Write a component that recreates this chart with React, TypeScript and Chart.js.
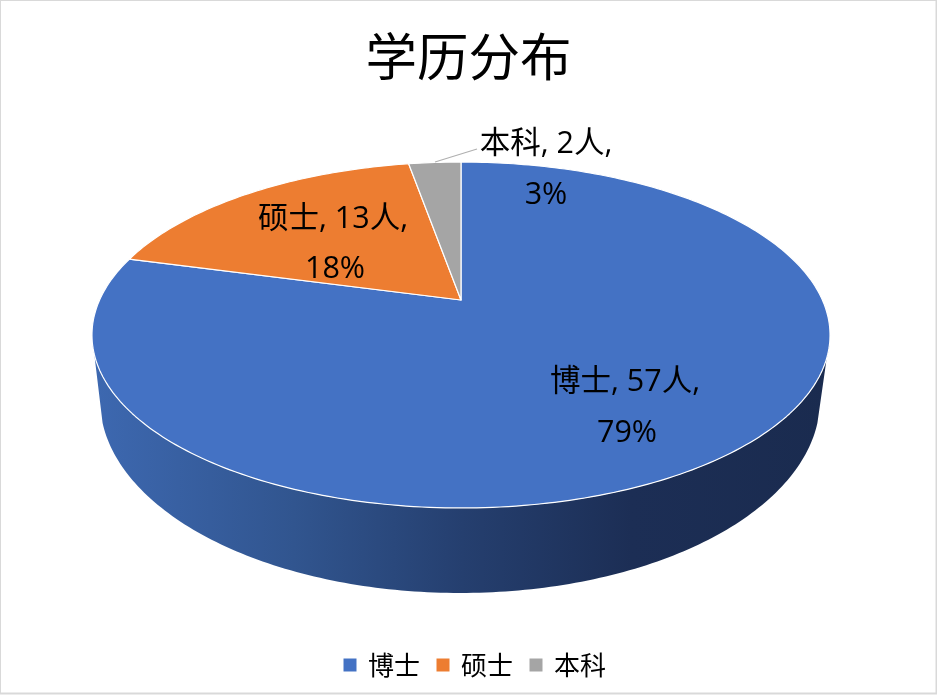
import React, { useEffect, useRef } from "react";
import { Chart, registerables } from "chart.js";

Chart.register(...registerables);

const chartTitle = "学历分布";
const categories = ["博士", "硕士", "本科"];
const people = [57, 13, 2];
const percents = ["79%", "18%", "3%"];
const colors = ["#4472C4", "#ED7D31", "#A5A5A5"];

const FONT = '"Noto Sans CJK SC", "Noto Sans", sans-serif';
const LABEL_FONT = '"Open Sans", "Noto Sans CJK SC", sans-serif';
const CX = 461;
const CY = 300;
const RX = 361.4;
const RY = 165.9;
const K = 0.2023;

function project(angle: number): [number, number] {
  const u = Math.cos(angle);
  const v = Math.sin(angle);
  const w = 1 - K * v;
  return [CX + (RX * u) / w, CY + (RY * v) / w];
}

const perspectivePie = {
  id: "perspectivePie",
  afterLayout(chart: any) {
    // the legend row sits a little right of the canvas centre
    chart.legend.left += 7;
    chart.legend.right += 7;
  },
  beforeDraw(chart: any) {
    const { ctx, width, height } = chart;
    ctx.save();
    ctx.fillStyle = "#ffffff";
    ctx.fillRect(0, 0, width, height);
    ctx.strokeStyle = "#d9d9d9";
    ctx.lineWidth = 2;
    ctx.strokeRect(0, 0, width - 0.5, height - 1.5);
    ctx.restore();
  },
  beforeDatasetDraw(chart: any, args: any) {
    const { ctx } = chart;
    const arcs = args.meta.data;
    ctx.save();

    // side wall: front silhouette of the top face, then the base outline back
    const tangent = Math.asin(K);
    const sideGrad = ctx.createLinearGradient(95, 0, 830, 0);
    sideGrad.addColorStop(0, "#3d68b0");
    sideGrad.addColorStop(0.27, "#31558f");
    sideGrad.addColorStop(0.5, "#253f6f");
    sideGrad.addColorStop(0.73, "#1c2e55");
    sideGrad.addColorStop(1, "#1a2b4f");
    ctx.fillStyle = sideGrad;
    ctx.beginPath();
    const N = 160;
    for (let i = 0; i <= N; i++) {
      const a = tangent + ((Math.PI - 2 * tangent) * i) / N;
      const [x, y] = project(a);
      if (i === 0) ctx.moveTo(x, y);
      else ctx.lineTo(x, y);
    }
    const baseStart = 0.12;
    for (let i = N; i >= 0; i--) {
      const t = baseStart + ((Math.PI - 2 * baseStart) * i) / N;
      ctx.lineTo(460 + 360 * Math.cos(t), 400 + 193 * Math.sin(t));
    }
    ctx.closePath();
    ctx.fill();

    // top face: each slice from the library's computed arc angles
    arcs.forEach((arc: any, idx: number) => {
      const { startAngle, endAngle } = arc;
      ctx.beginPath();
      ctx.moveTo(CX, CY);
      const steps = Math.max(8, Math.ceil(((endAngle - startAngle) * 180) / Math.PI));
      for (let i = 0; i <= steps; i++) {
        const a = startAngle + ((endAngle - startAngle) * i) / steps;
        const [x, y] = project(a);
        ctx.lineTo(x, y);
      }
      ctx.closePath();
      ctx.fillStyle = colors[idx];
      ctx.fill();
      ctx.strokeStyle = "#ffffff";
      ctx.lineWidth = 1.2;
      ctx.lineJoin = "round";
      ctx.stroke();
    });
    ctx.restore();
    return false;
  },
  afterDatasetsDraw(chart: any) {
    const { ctx } = chart;
    ctx.save();
    // leader line of the smallest slice
    ctx.strokeStyle = "#b0b0b0";
    ctx.lineWidth = 1.2;
    ctx.beginPath();
    ctx.moveTo(435, 162);
    ctx.lineTo(477, 149);
    ctx.stroke();

    const anchors: [number, number, number, number][] = [
      [625, 382, 627, 433],
      [333, 219, 335, 269],
      [546, 144, 546, 195],
    ];
    ctx.fillStyle = "#000000";
    ctx.font = `30.5px ${LABEL_FONT}`;
    ctx.textAlign = "center";
    ctx.textBaseline = "middle";
    categories.forEach((name, i) => {
      const [x1, y1, x2, y2] = anchors[i];
      ctx.fillText(`${name}, ${people[i]}人,`, x1, y1);
      ctx.fillText(percents[i], x2, y2);
    });
    ctx.restore();
  },
};

export default function App() {
  const ref = useRef<HTMLCanvasElement>(null);

  useEffect(() => {
    document.body.style.margin = "0";
    const chart = new Chart(ref.current!, {
      type: "pie",
      data: {
        labels: categories,
        datasets: [{ data: people, backgroundColor: colors, borderWidth: 0 }],
      },
      options: {
        animation: false,
        responsive: false,
        layout: { padding: { bottom: 7 } },
        plugins: {
          title: {
            display: true,
            text: chartTitle,
            color: "#000000",
            font: { family: FONT, size: 51.5, weight: "normal" },
            padding: { top: 26, bottom: 10 },
          },
          legend: {
            display: true,
            position: "bottom",
            labels: {
              usePointStyle: true,
              pointStyle: "rect",
              boxWidth: 10,
              boxHeight: 13,
              color: "#000000",
              padding: 18,
              font: { family: FONT, size: 26 },
            },
          },
          tooltip: { enabled: false },
        },
      } as any,
      plugins: [perspectivePie as any],
    });
    return () => chart.destroy();
  }, []);

  return <canvas ref={ref} width={937} height={695} style={{ display: "block" }} />;
}
